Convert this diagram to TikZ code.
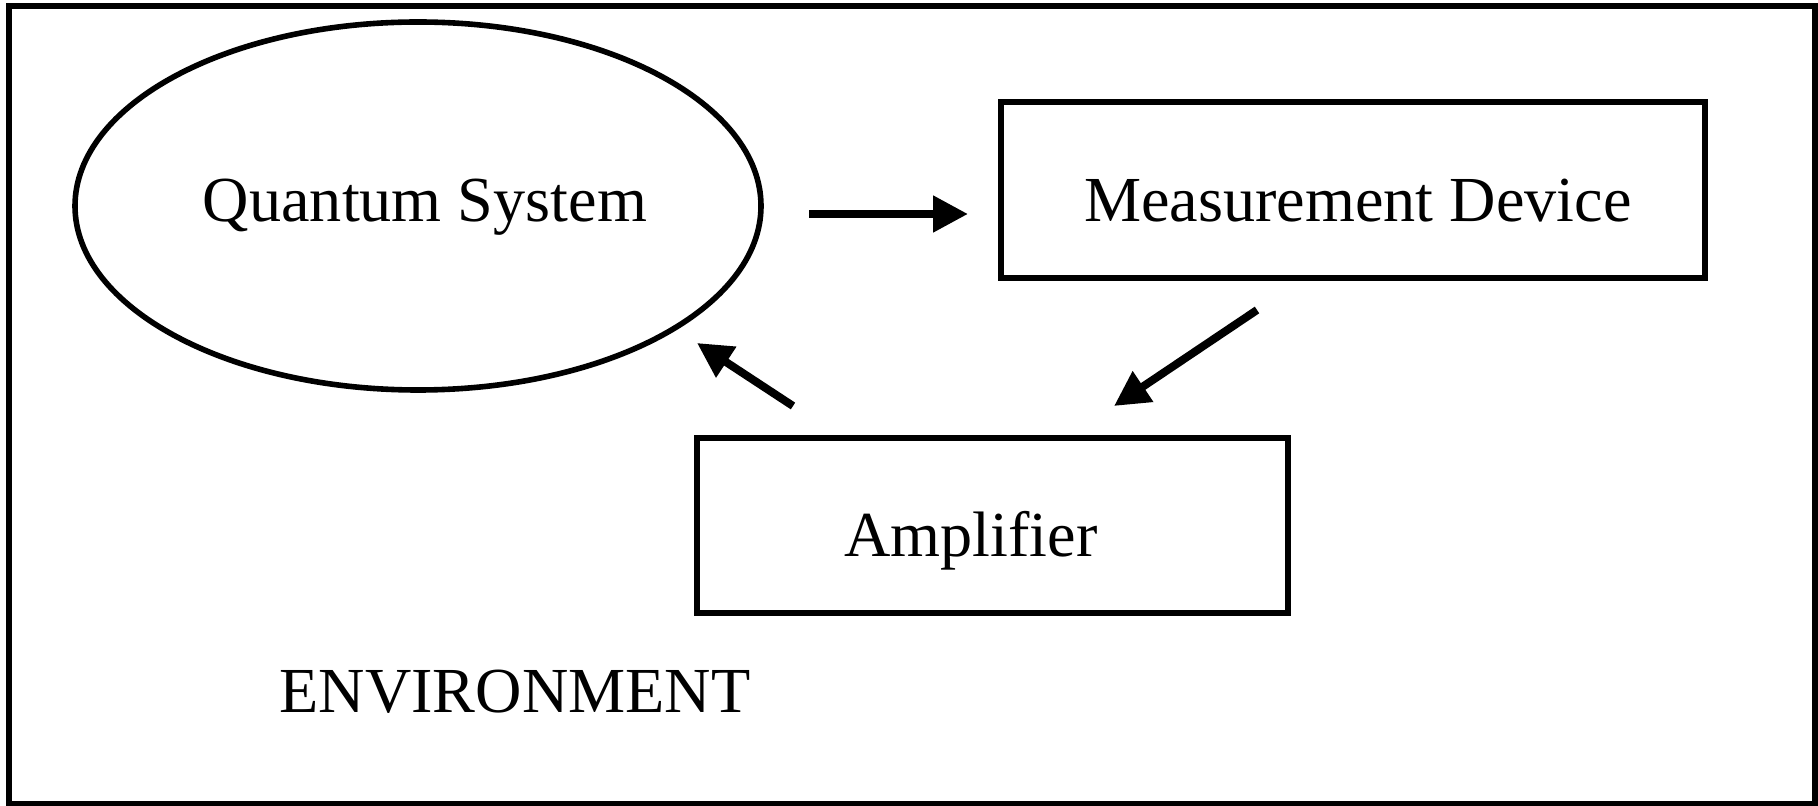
\documentclass[tikz,border=0pt]{standalone}
\usepackage{fontspec}
\setmainfont{Liberation Serif}
\usetikzlibrary{shapes.geometric,arrows.meta}
\begin{document}
\begin{tikzpicture}[x=0.5pt,y=-0.5pt,
  lbl/.style={inner sep=0pt,anchor=base,font=\fontsize{32.1}{38}\selectfont},
  boxshape/.style={draw,line width=3pt,rectangle,inner sep=0pt},
  ellshape/.style={draw,line width=2.8pt,ellipse,inner sep=0pt},
  flow/.style={line width=4pt,-{Triangle[length=17.5pt,width=17.5pt]}}]
\useasboundingbox (0,0) rectangle (1818,806);
\draw[line width=3pt] (9,6) rectangle (1815,804);
\node[ellshape,minimum width=343pt,minimum height=184pt] (qs) at (418,206) {};
\node[boxshape,minimum width=352pt,minimum height=88pt] (md) at (1353,190.5) {};
\node[boxshape,minimum width=295.5pt,minimum height=87.5pt] (amp) at (992.5,525.5) {};
\node[lbl] (qst) at (425,222) {Quantum System};
\node[lbl] (mdt) at (1358,222) {Measurement Device};
\node[lbl] (ampt) at (971,556.5) {Amplifier};
\node[lbl] (env) at (515,712) {ENVIRONMENT};
\coordinate (a1s) at (809,214);
\coordinate (a1e) at (968,214);
\coordinate (a2s) at (1257,310);
\coordinate (a2e) at (1114,406);
\coordinate (a3s) at (793,406);
\coordinate (a3e) at (697,343);
\draw[flow] (a1s) -- (a1e);
\draw[flow] (a2s) -- (a2e);
\draw[flow] (a3s) -- (a3e);
\end{tikzpicture}
\end{document}
